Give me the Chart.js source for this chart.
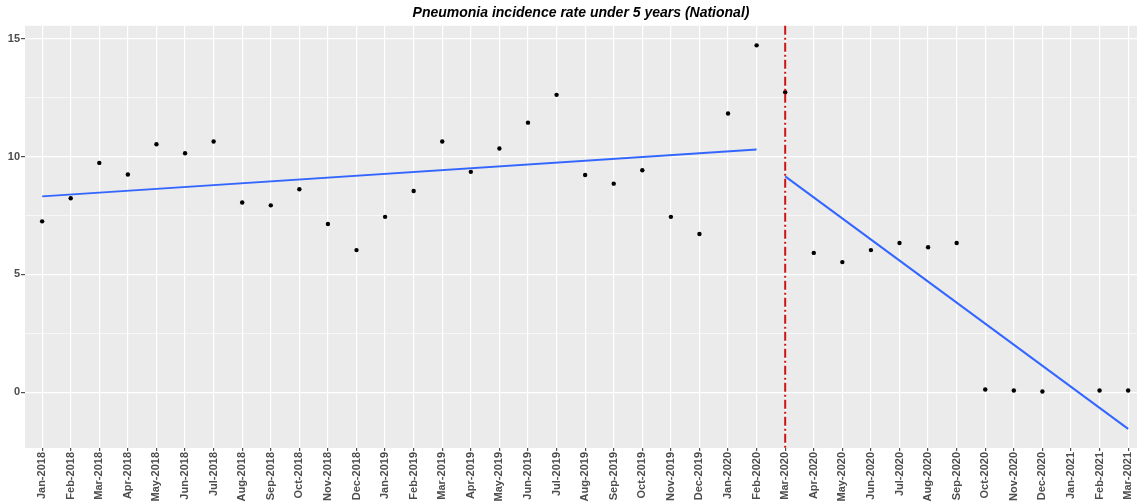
<!DOCTYPE html>
<html>
<head>
<meta charset="utf-8">
<script src="https://cdn.jsdelivr.net/npm/chart.js@4"></script>
<style>
  html, body { margin: 0; padding: 0; background: #fff; overflow: hidden; }
  #wrap { width: 1137px; height: 504px; }
</style>
</head>
<body>
<div id="wrap"><canvas id="pneuChart"></canvas></div>
<script>
// months on the x axis
const months = ['Jan-2018', 'Feb-2018', 'Mar-2018', 'Apr-2018', 'May-2018', 'Jun-2018', 'Jul-2018',
  'Aug-2018', 'Sep-2018', 'Oct-2018', 'Nov-2018', 'Dec-2018', 'Jan-2019', 'Feb-2019', 'Mar-2019',
  'Apr-2019', 'May-2019', 'Jun-2019', 'Jul-2019', 'Aug-2019', 'Sep-2019', 'Oct-2019', 'Nov-2019',
  'Dec-2019', 'Jan-2020', 'Feb-2020', 'Mar-2020', 'Apr-2020', 'May-2020', 'Jun-2020', 'Jul-2020',
  'Aug-2020', 'Sep-2020', 'Oct-2020', 'Nov-2020', 'Dec-2020', 'Jan-2021', 'Feb-2021', 'Mar-2021'];

// observed incidence rate (Jan-2021 missing)
const rates = [7.25, 8.23, 9.73, 9.24, 10.52, 10.14, 10.64, 8.05, 7.93, 8.61, 7.14, 6.03, 7.44,
  8.54, 10.64, 9.35, 10.34, 11.44, 12.62, 9.22, 8.85, 9.42, 7.44, 6.71, 11.83, 14.72,
  12.73, 5.91, 5.52, 6.03, 6.33, 6.15, 6.33, 0.11, 0.07, 0.03, null, 0.07, 0.07];

// fitted trend segments: [start month, start value, end month, end value]
const trendBefore = ['Jan-2018', 8.31, 'Feb-2020', 10.30];
const trendAfter = ['Mar-2020', 9.16, 'Mar-2021', -1.56];

const breakMonth = 'Mar-2020';
const yTicks = [0, 2.5, 5, 7.5, 10, 12.5, 15];

function trendPoints(seg) {
  return [
    { x: months.indexOf(seg[0]), y: seg[1] },
    { x: months.indexOf(seg[2]), y: seg[3] }
  ];
}

const panelBg = {
  id: 'panelBg',
  beforeDraw(chart) {
    const a = chart.chartArea;
    const c = chart.ctx;
    c.save();
    c.fillStyle = '#ebebeb';
    c.fillRect(a.left, a.top, a.right - a.left, a.bottom - a.top);
    c.restore();
  }
};

const breakLine = {
  id: 'breakLine',
  afterDatasetsDraw(chart) {
    const a = chart.chartArea;
    const c = chart.ctx;
    const x = chart.scales.x.getPixelForValue(months.indexOf(breakMonth));
    c.save();
    c.strokeStyle = '#cc1414';
    c.lineWidth = 2;
    c.setLineDash([9, 3, 2, 3]);
    c.beginPath();
    c.moveTo(x, a.top);
    c.lineTo(x, a.bottom);
    c.stroke();
    c.restore();
  }
};

const ctx = document.getElementById('pneuChart').getContext('2d');
const pneuChart = new Chart(ctx, {
  type: 'scatter',
  data: {
    datasets: [
      {
        label: 'trend before',
        data: trendPoints(trendBefore),
        showLine: true,
        borderColor: '#3366ff',
        borderWidth: 2,
        pointRadius: 0
      },
      {
        label: 'trend after',
        data: trendPoints(trendAfter),
        showLine: true,
        borderColor: '#3366ff',
        borderWidth: 2,
        pointRadius: 0
      },
      {
        label: 'rate',
        data: rates.map((v, i) => (v === null ? null : { x: i, y: v })).filter(p => p),
        backgroundColor: '#000',
        borderColor: '#000',
        pointRadius: 2.2,
        pointBorderWidth: 0
      }
    ]
  },
  options: {
    responsive: true,
    maintainAspectRatio: false,
    animation: false,
    layout: { autoPadding: false, padding: { left: 0, right: 0, top: 0, bottom: 0 } },
    scales: {
      x: {
        type: 'linear',
        min: -0.6,
        max: 38.31,
        afterBuildTicks: s => { s.ticks = months.map((_, i) => ({ value: i })); },
        afterFit: s => { s.height = 56; s.paddingLeft = 0; s.paddingRight = 0; },
        border: { display: false },
        grid: { color: '#ffffff', lineWidth: 1.2, tickColor: '#4d4d4d', tickLength: 3 },
        ticks: {
          autoSkip: false,
          minRotation: 90,
          maxRotation: 90,
          padding: 1,
          color: '#4d4d4d',
          font: { family: 'Liberation Sans, Arial, sans-serif', size: 11, weight: 'bold' },
          callback: v => months[v]
        }
      },
      y: {
        min: -2.37,
        max: 15.55,
        afterBuildTicks: s => { s.ticks = yTicks.map(v => ({ value: v })); },
        afterFit: s => { s.width = 25; },
        border: { display: false },
        grid: {
          color: '#ffffff',
          lineWidth: c => (c.tick && c.tick.value % 5 === 0 ? 1.2 : 0.6),
          tickColor: c => (c.tick && c.tick.value % 5 === 0 ? '#4d4d4d' : 'rgba(0,0,0,0)'),
          tickLength: 4
        },
        ticks: {
          padding: 1,
          color: '#4d4d4d',
          font: { family: 'Liberation Sans, Arial, sans-serif', size: 11, weight: 'bold' },
          callback: v => (v % 5 === 0 ? String(v) : '')
        }
      }
    },
    plugins: {
      legend: { display: false },
      tooltip: { enabled: false },
      title: {
        display: true,
        fullSize: false,
        text: 'Pneumonia incidence rate under 5 years (National)',
        color: '#000',
        font: { family: 'Liberation Sans, Arial, sans-serif', size: 14, weight: 'bold', style: 'italic' },
        padding: { top: 5, bottom: 4 }
      }
    }
  },
  plugins: [panelBg, breakLine]
});
</script>
</body>
</html>
